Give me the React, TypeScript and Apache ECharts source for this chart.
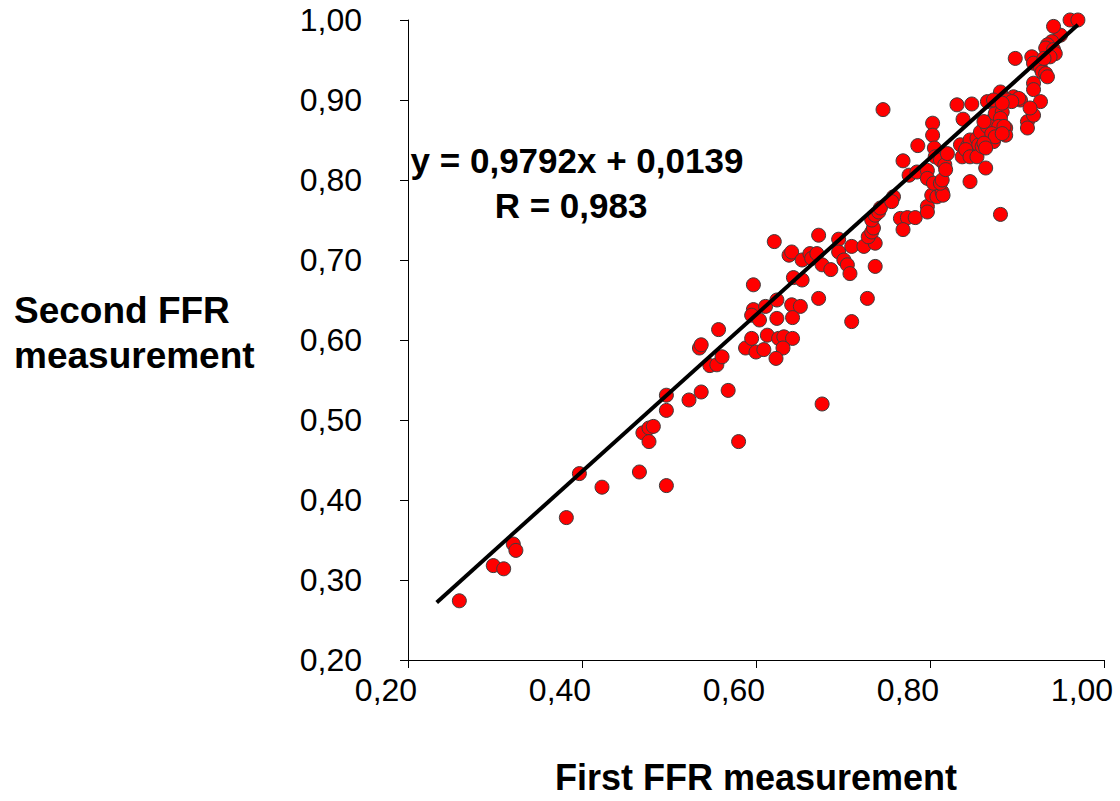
import React, { useEffect, useRef } from "react";
import * as echarts from "echarts";

const firstFFR = [
  0.259, 0.298, 0.310, 0.321, 0.324, 0.382, 0.397, 0.423, 0.466, 0.497,
  0.470, 0.477, 0.482, 0.477, 0.497, 0.497, 0.523, 0.537, 0.568, 0.580,
  0.676, 0.535, 0.537, 0.557, 0.547, 0.555, 0.561, 0.588, 0.595, 0.600,
  0.609, 0.613, 0.626, 0.632, 0.642, 0.631, 0.623, 0.597, 0.595, 0.604,
  0.611, 0.624, 0.624, 0.641, 0.651, 0.642, 0.672, 0.597, 0.621, 0.672,
  0.638, 0.641, 0.653, 0.662, 0.664, 0.670, 0.643, 0.653, 0.676, 0.686,
  0.695, 0.695, 0.701, 0.705, 0.708, 0.710, 0.724, 0.710, 0.728, 0.737,
  0.737, 0.729, 0.733, 0.735, 0.733, 0.737, 0.741, 0.743, 0.758, 0.756,
  0.766, 0.774, 0.783, 0.769, 0.746, 0.769, 0.776, 0.785, 0.797, 0.797,
  0.786, 0.797, 0.797, 0.802, 0.808, 0.814, 0.815, 0.804, 0.812, 0.814,
  0.803, 0.803, 0.805, 0.806, 0.812, 0.817, 0.818, 0.820, 0.831, 0.848,
  0.838, 0.835, 0.837, 0.843, 0.846, 0.850, 0.854, 0.856, 0.846, 0.841,
  0.846, 0.854, 0.860, 0.864, 0.873, 0.858, 0.866, 0.869, 0.875, 0.883,
  0.881, 0.879, 0.871, 0.887, 0.887, 0.864, 0.912, 0.912, 0.896, 0.904,
  0.881, 0.889, 0.898, 0.866, 0.862, 0.875, 0.885, 0.883, 0.862, 0.864,
  0.881, 0.917, 0.919, 0.927, 0.929, 0.933, 0.935, 0.919, 0.919, 0.927,
  0.919, 0.915, 0.902, 0.894, 0.873, 0.883, 0.950, 0.940, 0.935, 0.933,
  0.942, 0.944, 0.938, 0.942, 0.961, 0.970, 0.931,
];
const secondFFR = [
  0.274, 0.318, 0.314, 0.345, 0.337, 0.378, 0.433, 0.416, 0.435, 0.418,
  0.484, 0.490, 0.492, 0.473, 0.512, 0.531, 0.525, 0.535, 0.537, 0.473,
  0.520, 0.590, 0.594, 0.613, 0.568, 0.569, 0.579, 0.590, 0.602, 0.585,
  0.588, 0.606, 0.602, 0.604, 0.602, 0.590, 0.577, 0.638, 0.631, 0.625,
  0.642, 0.650, 0.627, 0.644, 0.642, 0.628, 0.652, 0.669, 0.723, 0.731,
  0.706, 0.710, 0.700, 0.708, 0.702, 0.708, 0.678, 0.675, 0.694, 0.688,
  0.726, 0.710, 0.700, 0.694, 0.683, 0.717, 0.717, 0.623, 0.652, 0.692,
  0.721, 0.729, 0.735, 0.740, 0.750, 0.756, 0.760, 0.765, 0.779, 0.773,
  0.752, 0.753, 0.753, 0.738, 0.888, 0.824, 0.806, 0.810, 0.812, 0.802,
  0.843, 0.767, 0.760, 0.781, 0.779, 0.785, 0.781, 0.796, 0.796, 0.800,
  0.871, 0.856, 0.840, 0.829, 0.825, 0.819, 0.813, 0.833, 0.894, 0.895,
  0.876, 0.844, 0.829, 0.842, 0.850, 0.833, 0.852, 0.844, 0.798, 0.838,
  0.829, 0.829, 0.842, 0.848, 0.848, 0.860, 0.867, 0.873, 0.883, 0.885,
  0.877, 0.867, 0.858, 0.865, 0.856, 0.815, 0.873, 0.865, 0.904, 0.900,
  0.910, 0.900, 0.952, 0.898, 0.873, 0.854, 0.867, 0.858, 0.846, 0.840,
  0.757, 0.954, 0.946, 0.940, 0.935, 0.933, 0.929, 0.921, 0.913, 0.898,
  0.881, 0.890, 0.902, 0.898, 0.900, 0.896, 0.981, 0.973, 0.969, 0.965,
  0.963, 0.958, 0.954, 0.992, 1.000, 1.000, 0.952,
];

// Drawn regression line end points
const fitLineX = [0.233, 0.970];
const fitLineY = [0.272, 0.994];

const equationText = "y = 0,9792x + 0,0139";
const rText = "R = 0,983";
const xAxisTitle = "First FFR measurement";
const yAxisTitle = ["Second FFR", "measurement"];

const fmt = (v: number) => v.toFixed(2).replace(".", ",");

export default function App() {
  const ref = useRef<HTMLDivElement>(null);
  useEffect(() => {
    if (!ref.current) return;
    const chart = echarts.init(ref.current, null, { renderer: "svg" });
    const fam = '"Liberation Sans", Arial, Helvetica, sans-serif';
    chart.setOption({
      animation: false,
      backgroundColor: "#ffffff",
      grid: {
        left: 408,
        right: 16,
        top: 20,
        bottom: 141,
        containLabel: false,
        outerBoundsMode: "none",
      },
      xAxis: {
        type: "value",
        min: 0.2,
        max: 1.0,
        interval: 0.2,
        axisLine: { show: true, onZero: false, lineStyle: { color: "#000", width: 1 } },
        axisTick: { show: true, length: 8, lineStyle: { color: "#000", width: 1 } },
        splitLine: { show: false },
        axisLabel: {
          formatter: fmt,
          fontSize: 32,
          color: "#000",
          fontFamily: fam,
          margin: 14,
          padding: [0, 44, 0, 0],
        },
        name: xAxisTitle,
        nameLocation: "middle",
        nameGap: 99,
        nameTextStyle: { fontSize: 36, fontWeight: "bold", color: "#000", fontFamily: fam },
      },
      yAxis: {
        type: "value",
        min: 0.2,
        max: 1.0,
        interval: 0.1,
        axisLine: { show: true, onZero: false, lineStyle: { color: "#000", width: 1 } },
        axisTick: { show: true, length: 8, lineStyle: { color: "#000", width: 1 } },
        splitLine: { show: false },
        axisLabel: {
          formatter: fmt,
          fontSize: 32,
          color: "#000",
          fontFamily: fam,
          margin: 46,
        },
      },
      series: [
        {
          type: "scatter",
          data: firstFFR.map((x, i) => [x, secondFFR[i]]),
          symbol: "circle",
          symbolSize: 14,
          itemStyle: { color: "#ff0000", borderColor: "#3c3c3c", borderWidth: 1, opacity: 1 },
          z: 2,
        },
        {
          type: "line",
          data: fitLineX.map((x, i) => [x, fitLineY[i]]),
          symbol: "none",
          showSymbol: false,
          lineStyle: { color: "#000", width: 4 },
          z: 3,
        },
      ],
      graphic: [
        {
          type: "text",
          x: 14,
          y: 310,
          style: {
            text: yAxisTitle[0],
            font: `bold 37px ${fam}`,
            fill: "#000",
            align: "left",
            verticalAlign: "middle",
          },
        },
        {
          type: "text",
          x: 14,
          y: 355,
          style: {
            text: yAxisTitle[1],
            font: `bold 37px ${fam}`,
            fill: "#000",
            align: "left",
            verticalAlign: "middle",
          },
        },
        {
          type: "text",
          x: 577,
          y: 160,
          style: {
            text: equationText,
            font: `bold 35px ${fam}`,
            fill: "#000",
            align: "center",
            verticalAlign: "middle",
          },
        },
        {
          type: "text",
          x: 571,
          y: 205,
          style: {
            text: rText,
            font: `bold 35px ${fam}`,
            fill: "#000",
            align: "center",
            verticalAlign: "middle",
          },
        },
      ],
    });
    return () => chart.dispose();
  }, []);
  return (
    <div
      ref={ref}
      style={{ position: "absolute", left: 0, top: 0, width: 1120, height: 801, background: "#fff" }}
    />
  );
}
